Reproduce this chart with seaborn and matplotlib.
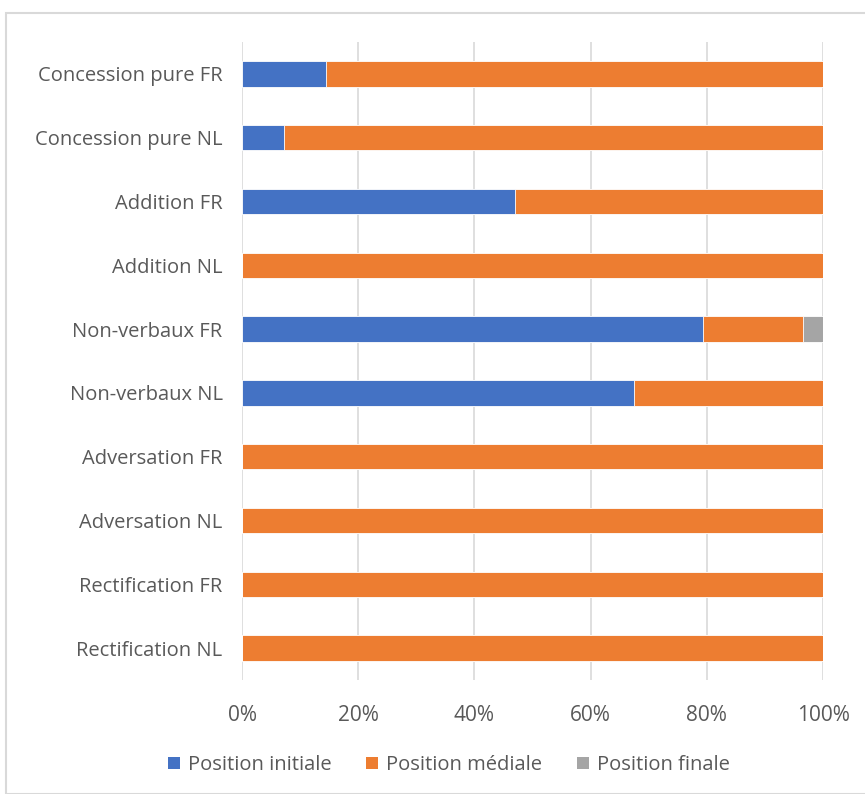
import numpy as np
import pandas as pd
import matplotlib
matplotlib.use("Agg")
import matplotlib.pyplot as plt
import seaborn as sns
from matplotlib.patches import Patch, Rectangle

categories = ["Concession pure FR", "Concession pure NL", "Addition FR", "Addition NL",
              "Non-verbaux FR", "Non-verbaux NL", "Adversation FR", "Adversation NL",
              "Rectification FR", "Rectification NL"]
initiale = np.array([14.5, 7.2, 47.0, 0.0, 79.3, 67.5, 0.0, 0.0, 0.0, 0.0])
finale = np.array([0.0, 0.0, 0.0, 0.0, 3.4, 0.0, 0.0, 0.0, 0.0, 0.0])
mediale = 100.0 - initiale - finale
series = ["Position initiale", "Position médiale", "Position finale"]
colors = ["#4472C4", "#ED7D31", "#A5A5A5"]
xticks = [0, 20, 40, 60, 80, 100]

sns.set_style("white")
plt.rcParams["font.family"] = ["Open Sans", "DejaVu Sans"]
txt = "#595959"
fs = 14.5

df = pd.DataFrame({"cat": categories,
                   "l1": initiale,
                   "l2": initiale + mediale,
                   "l3": initiale + mediale + finale})

fig = plt.figure(figsize=(8.65, 7.94), dpi=100)
ax = fig.add_axes([242 / 865, 1 - 680 / 794, 581 / 865, 638 / 794])

for col, c in zip(["l3", "l2", "l1"], colors[::-1]):
    sns.barplot(data=df, x=col, y="cat", order=categories, color=c, width=0.4,
                orient="h", ax=ax, saturation=1, edgecolor="white", linewidth=0.6)

ax.set_xlim(0, 100)
ax.set_ylim(9.5, -0.5)
ax.set_xticks(xticks)
ax.set_xticklabels([f"{t}%" for t in xticks], color=txt, fontsize=fs + 0.5)
ax.tick_params(axis="x", length=0, pad=18)
ax.tick_params(axis="y", length=0, pad=14)
for lab in ax.get_yticklabels():
    lab.set_color(txt)
    lab.set_fontsize(fs)
ax.set_xlabel("")
ax.set_ylabel("")
ax.grid(axis="x", color="#D9D9D9", linewidth=1.2, zorder=0)
ax.set_axisbelow(True)
for s in ax.spines.values():
    s.set_visible(False)

handles = [Patch(facecolor=c, edgecolor="none") for c in colors]
fig.legend(handles, series, loc="center", bbox_to_anchor=(449 / 865, 1 - 765 / 794),
           ncol=3, frameon=False, fontsize=fs, handlelength=0.6, handleheight=0.6,
           handletextpad=0.4, columnspacing=1.7, labelcolor=txt)

fig.patches.append(Rectangle((6 / 865, 0.0), 1.0, 1 - 13 / 794, transform=fig.transFigure,
                             fill=False, edgecolor="#D9D9D9", linewidth=1.5))

fig.savefig("out.png", dpi=100)
